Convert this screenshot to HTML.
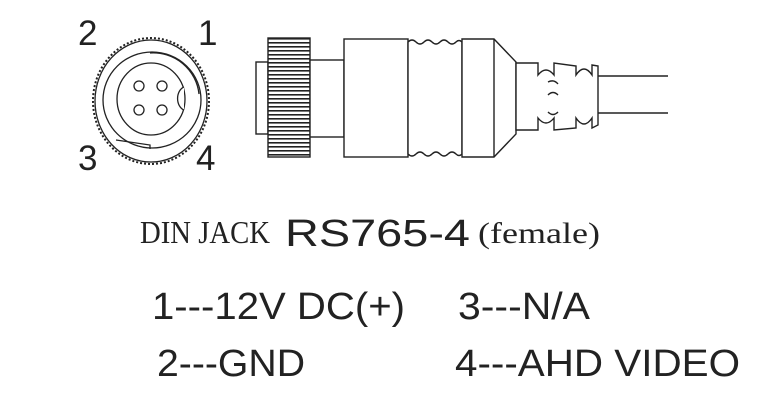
<!DOCTYPE html>
<html><head><style>html,body{margin:0;padding:0;background:#fff;}svg{display:block}</style></head>
<body>
<svg width="765" height="409" viewBox="0 0 765 409" xmlns="http://www.w3.org/2000/svg">
<defs>
<pattern id="kn" x="0" y="38" width="6" height="4" patternUnits="userSpaceOnUse">
<rect width="6" height="4" fill="#fff"/><rect width="6" height="1.6" fill="#222"/></pattern>
</defs>
<g font-family="Liberation Sans, sans-serif" font-size="35" fill="#222">
<text x="78" y="45">2</text><text x="198" y="45">1</text>
<text x="78" y="170">3</text><text x="196" y="170">4</text>
</g>
<g fill="none" stroke="#222" stroke-width="1.3">
<ellipse cx="151" cy="101" rx="58" ry="63" stroke-width="2" stroke-dasharray="2 2"/>
<ellipse cx="151" cy="101" rx="56" ry="61"/>
<ellipse cx="152" cy="100" rx="49" ry="48"/>
<path d="M150 53 A46 46 0 0 1 199 94"/>
<path d="M116 140 L150 145 L150 149"/>
<ellipse cx="151" cy="99" rx="34" ry="36"/>
<path d="M184 87 A9 12 0 0 0 184 110" fill="#fff"/>
<circle cx="139" cy="86" r="5"/><circle cx="162" cy="86" r="5"/>
<circle cx="139" cy="110" r="5"/><circle cx="162" cy="110" r="5"/>
</g>
<g stroke="#222" stroke-width="1.4" fill="#fff">
<rect x="256" y="62" width="12" height="72"/>
<rect x="268" y="38" width="42" height="119" fill="url(#kn)"/>
<rect x="310" y="60" width="34" height="77"/>
<rect x="344" y="39" width="64" height="118"/>
<path d="M408 42 q4 -4 8 0 q4 4 8 0 q4 -4 8 0 q4 4 8 0 q4 -4 8 0 q4 4 8 0 q3 -3 6 0 L462 154 q-3 3 -6 0 q-4 -4 -8 0 q-4 4 -8 0 q-4 -4 -8 0 q-4 4 -8 0 q-4 -4 -8 0 q-4 4 -8 0 Z"/>
<path d="M462 39 L494 39 L516 62 L516 134 L494 157 L462 157 Z"/>
<line x1="494" y1="39" x2="494" y2="157"/>
<path d="M516 63 L538 63 L538 75 q8 -10 16 0 L554 63 L576 66 L576 75 q8 -12 16 0 L592 65 L598 66 L598 125 L592 128 L592 118 q-8 12 -16 0 L576 128 L554 130 L554 118 q-8 10 -16 0 L538 130 L516 130 Z"/>
</g>
<g stroke="#222" stroke-width="1.4" fill="none">
<line x1="598" y1="76" x2="668" y2="76"/><line x1="598" y1="113" x2="668" y2="113"/>
<path d="M548 82 q6 -3 10 2 M548 95 q5 -5 10 0 M548 112 q5 5 10 0"/>
</g>
<g fill="#222">
<text x="140" y="243" font-family="Liberation Serif, serif" font-size="32" textLength="130" lengthAdjust="spacingAndGlyphs">DIN JACK</text>
<text x="285" y="246" font-family="Liberation Sans, sans-serif" font-size="38" textLength="185" lengthAdjust="spacingAndGlyphs">RS765-4</text>
<text x="478" y="243" font-family="Liberation Serif, serif" font-size="30" textLength="122" lengthAdjust="spacingAndGlyphs">(female)</text>
<g font-family="Liberation Sans, sans-serif" font-size="38">
<text x="152" y="319" textLength="253" lengthAdjust="spacingAndGlyphs">1---12V DC(+)</text>
<text x="458" y="319" textLength="132" lengthAdjust="spacingAndGlyphs">3---N/A</text>
<text x="157" y="376" textLength="148" lengthAdjust="spacingAndGlyphs">2---GND</text>
<text x="455" y="376" textLength="285" lengthAdjust="spacingAndGlyphs">4---AHD VIDEO</text>
</g>
</g>
</svg>
</body></html>
